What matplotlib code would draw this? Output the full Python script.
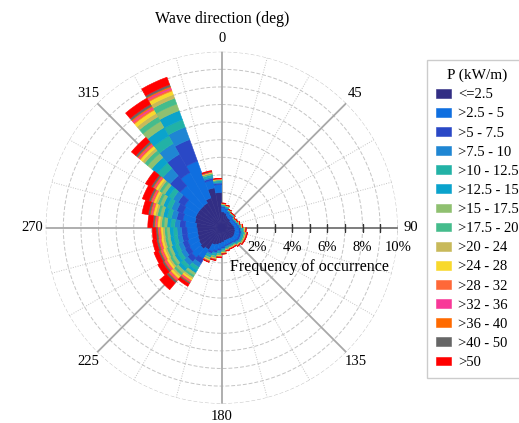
import numpy as np
from matplotlib import pyplot as plt

plt.rcParams['font.family'] = ['Liberation Serif', 'DejaVu Serif']

# direction bins (deg, start of each 10 deg sector)
dirs = np.arange(0, 360, 10)

classes = ["<=2.5", ">2.5 - 5", ">5 - 7.5", ">7.5 - 10", ">10 - 12.5", ">12.5 - 15",
           ">15 - 17.5", ">17.5 - 20", ">20 - 24", ">24 - 28", ">28 - 32",
           ">32 - 36", ">36 - 40", ">40 - 50", ">50"]
colors = ['#322e84', '#0f6fe0', '#2a48c6', '#1f86d3', '#22b2a6', '#0aa3cc',
          '#8fc070', '#45bc8c', '#c8b95a', '#f8d92c', '#ff6838', '#f83898',
          '#ff6a00', '#666666', '#ff0000']

# frequency of occurrence (%) for each power class, per direction sector
p_0_25 = [.90, .85, .72, .65, .65, .58, .60, .65, .70, .75, .78, .80, .82, .80, .75, .74, .75, .82,
          .90, .98, 1.05, 1.45, 1.58, 1.50, 1.45, 1.40, 1.40, 1.45, 1.55, 1.60, 1.60, 1.60, 1.62, 1.80, 2.30, 2.00]
p_25_5 = [.25, .22, .20, .18, .18, .17, .18, .20, .22, .25, .27, .27, .27, .25, .24, .25, .26, .28,
          .32, .36, .40, .60, .65, .62, .62, .60, .58, .62, .70, .75, .85, 1.50, 2.00, 2.23, .45, .45]
p_5_75 = [.05, .05, .04, .04, .04, .04, .04, .05, .06, .08, .09, .09, .08, .07, .06, .06, .06, .07,
          .09, .10, .12, .30, .32, .30, .30, .30, .30, .32, .36, .38, .42, .75, 1.20, 1.30, .10, .08]
p_75_10 = [.04, .04, .03, .03, .03, .03, .03, .04, .05, .06, .07, .07, .07, .06, .05, .05, .05, .06,
           .07, .08, .10, .25, .28, .26, .26, .26, .26, .28, .30, .32, .34, .55, .70, .75, .08, .06]
p_10_125 = [.03, .03, .03, .03, .03, .02, .03, .03, .04, .05, .05, .05, .05, .04, .04, .04, .04, .05,
            .06, .07, .08, .20, .22, .22, .22, .22, .22, .23, .25, .26, .28, .40, .50, .45, .06, .04]
p_125_15 = [.03, .03, .02, .02, .02, .02, .02, .02, .03, .04, .05, .05, .05, .04, .03, .03, .04, .04,
            .05, .06, .07, .18, .20, .20, .20, .20, .20, .21, .23, .24, .26, .40, .55, .55, .06, .04]
p_15_175 = [.02, .02, .02, .02, .02, .01, .01, .02, .02, .03, .04, .03, .03, .03, .03, .03, .03, .04,
            .04, .05, .06, .15, .17, .16, .16, .16, .16, .17, .18, .19, .20, .30, .40, .40, .04, .03]
p_175_20 = [.02, .02, .01, .01, .01, .01, .01, .01, .02, .03, .03, .03, .03, .02, .02, .02, .03, .03,
            .04, .04, .05, .13, .14, .14, .13, .13, .13, .14, .15, .15, .16, .22, .30, .35, .04, .02]
p_20_24 = [.01, .01, .01, .01, .01, .01, .01, .01, .01, .02, .02, .02, .02, .02, .02, .02, .02, .03,
           .03, .04, .04, .10, .12, .11, .11, .11, .11, .11, .12, .12, .12, .16, .22, .22, .03, .02]
p_24_28 = [.01, .01, .01, .01, .01, .01, .01, .01, .01, .02, .02, .02, .02, .02, .02, .02, .02, .02,
           .03, .03, .04, .10, .12, .11, .11, .11, .10, .11, .12, .12, .12, .16, .22, .22, .03, .02]
p_28_32 = [.01, .01, .01, .00, .00, .00, .01, .01, .01, .02, .02, .02, .01, .01, .01, .01, .01, .02,
           .02, .02, .02, .06, .07, .07, .07, .07, .07, .07, .07, .07, .07, .08, .10, .10, .02, .01]
p_32_36 = [.01, .01, .00, .00, .00, .00, .00, .00, .01, .01, .01, .01, .01, .01, .01, .01, .01, .01,
           .02, .02, .02, .05, .06, .06, .06, .06, .06, .06, .06, .06, .06, .07, .09, .09, .02, .01]
p_36_40 = [.01, .00, .00, .00, .00, .00, .00, .00, .01, .01, .01, .01, .01, .01, .01, .01, .01, .01,
           .01, .01, .01, .04, .05, .05, .05, .05, .05, .05, .05, .05, .05, .06, .07, .07, .01, .01]
p_40_50 = [.01, .00, .00, .00, .00, .00, .00, .00, .01, .01, .02, .01, .01, .01, .00, .00, .01, .01,
           .01, .02, .02, .07, .12, .10, .10, .10, .10, .10, .11, .11, .11, .12, .13, .12, .02, .01]
p_50 = [.00, .00, .00, .00, .00, .00, .00, .00, .00, .02, .02, .02, .02, .01, .01, .01, .01, .02,
        .02, .02, .02, .17, .50, .30, .26, .23, .21, .28, .35, .38, .36, .33, .40, .45, .04, .00]

series = [p_0_25, p_25_5, p_5_75, p_75_10, p_10_125, p_125_15, p_15_175, p_175_20,
          p_20_24, p_24_28, p_28_32, p_32_36, p_36_40, p_40_50, p_50]

fig = plt.figure(figsize=(5.19, 4.23), dpi=100)
ax = fig.add_axes([0.0881, 0.0456, 0.6782, 0.8322], projection='polar')
ax.set_theta_zero_location('N')
ax.set_theta_direction(-1)
ax.set_ylim(0, 10)
ax.set_xticks([])
ax.set_yticks([])
ax.grid(False)
ax.spines['polar'].set_visible(False)

# grid
tt = np.linspace(0, 2 * np.pi, 400)
for r in range(1, 11):
    ax.plot(tt, [r] * len(tt), color='#c4c4c4', lw=0.7, ls=(0, (4, 2)), zorder=1)
for a in range(0, 360, 15):
    th = np.deg2rad(a)
    if a % 45 == 0:
        ax.plot([th, th], [0, 10], color='#a8a8a8', lw=1.3, zorder=1)
    else:
        ax.plot([th, th], [0, 10], color='#c4c4c4', lw=0.7, ls=(0, (1, 1.5)), zorder=1)
ax.plot([np.pi / 2, np.pi / 2], [0, 10], color='#777777', lw=1.2, zorder=1)
ax.plot([np.pi / 2] * 10, np.arange(1, 11), marker='|', markersize=6, mew=1.0,
        ls='none', color='#333333', zorder=1)

# stacked bars
theta = np.deg2rad(dirs)
bottom = np.zeros(len(dirs))
for vals, col, lab in zip(series, colors, classes):
    vals = np.array(vals)
    ax.bar(theta, vals, width=np.deg2rad(10), bottom=bottom, align='edge',
           color=col, edgecolor=col, linewidth=0.4, label=lab, zorder=3)
    bottom = bottom + vals

# direction labels
for a in range(0, 360, 45):
    ax.text(np.deg2rad(a), 10.75, str(a), ha='center', va='center', fontsize=10.5)

# radial labels
for v in [2, 4, 6, 8, 10]:
    ax.annotate('%d%%' % v, xy=(np.pi / 2, v), xytext=(0, -14), textcoords='offset points',
                ha='center', va='center', fontsize=10.5, zorder=5)
ax.annotate('Frequency of occurrence', xy=(np.pi / 2, 5.0), xytext=(0, -28),
            textcoords='offset points', ha='center', va='center', fontsize=11.5, zorder=5)

fig.text(0.4272, 1 - 19 / 423, 'Wave direction (deg)', ha='center', va='center', fontsize=11.5)

leg = ax.legend(loc='upper left', bbox_to_anchor=(427 / 519, 1 - 60 / 423),
                bbox_transform=fig.transFigure, borderaxespad=0, title='P (kW/m)',
                fontsize=10.5, title_fontsize=11, handlelength=1.05, handleheight=0.55,
                labelspacing=0.42, handletextpad=0.5, fancybox=False, framealpha=1,
                edgecolor='#cccccc', borderpad=0.6)
leg.get_frame().set_linewidth(1.0)

fig.savefig('out.png', dpi=100)
